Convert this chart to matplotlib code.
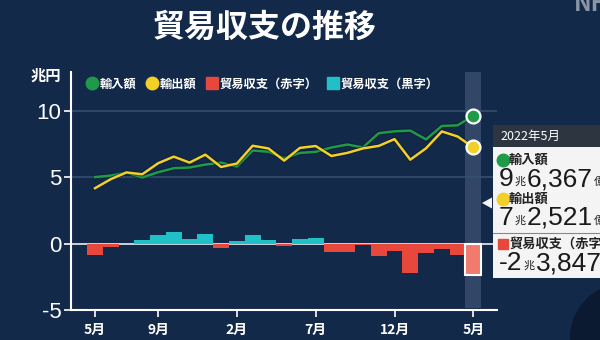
import numpy as np
import matplotlib.pyplot as plt
import matplotlib.patheffects as pe
from matplotlib.lines import Line2D
from matplotlib.patches import Rectangle, Circle, Polygon

plt.rcParams['font.family'] = ['Noto Sans CJK JP', 'DejaVu Sans']

# monthly trade figures, trillion yen (2020-05 .. 2022-05)
months = ['2020-05', '2020-06', '2020-07', '2020-08', '2020-09', '2020-10',
          '2020-11', '2020-12', '2021-01', '2021-02', '2021-03', '2021-04',
          '2021-05', '2021-06', '2021-07', '2021-08', '2021-09', '2021-10',
          '2021-11', '2021-12', '2022-01', '2022-02', '2022-03', '2022-04',
          '2022-05']
imports = [5.02, 5.13, 5.36, 4.99, 5.38, 5.69, 5.74, 5.96, 6.11, 5.82, 7.02,
           6.93, 6.44, 6.84, 6.92, 7.25, 7.47, 7.26, 8.33, 8.47, 8.52, 7.86,
           8.87, 8.92, 9.6367]
exports = [4.18, 4.86, 5.37, 5.23, 6.06, 6.56, 6.11, 6.71, 5.78, 6.04, 7.38,
           7.18, 6.26, 7.22, 7.36, 6.61, 6.84, 7.18, 7.37, 7.88, 6.33, 7.19,
           8.46, 8.08, 7.2521]
balance = [-0.83, -0.27, 0.01, 0.24, 0.68, 0.87, 0.37, 0.75, -0.33, 0.22,
           0.66, 0.26, -0.19, 0.38, 0.44, -0.64, -0.62, -0.07, -0.96, -0.58,
           -2.19, -0.67, -0.41, -0.84, -2.3847]
tick_months = ['2020-05', '2020-09', '2021-02', '2021-07', '2021-12', '2022-05']

BG = '#13294a'
GREEN = '#1f9a48'
YELLOW = '#f2d027'
RED = '#e8483c'
CYAN = '#1fc0c8'

x = np.arange(len(months))

fig = plt.figure(figsize=(6, 3.4), dpi=100)
fig.patch.set_facecolor(BG)

ax = fig.add_axes([71 / 600, 30 / 340, 426 / 600, 238 / 340])
ax.set_facecolor(BG)
ax.set_xlim(-1.52, 25.5)
ax.set_ylim(-5, 12.94)

# highlighted latest month
ax.axvspan(x[-1] - 0.5, x[-1] + 0.5, ymin=0.01, ymax=1, color='#3d5272',
           alpha=0.75, lw=0, zorder=0.5)

for yv in (5, 10):
    ax.axhline(yv, color='#34506f', lw=1.2, zorder=0.8)
ax.axhline(0, color='#e8eef5', lw=1.2, zorder=1)

colors = [RED if v < 0 else CYAN for v in balance]
edges = [c for c in colors]
lws = [0] * len(balance)
colors[-1] = '#f07a6e'
edges[-1] = 'white'
lws[-1] = 1.5
ax.bar(x, balance, width=1.0, color=colors, edgecolor=edges, linewidth=lws,
       zorder=2)

shadow = [pe.Stroke(linewidth=3.2, foreground='#0a1628', alpha=0.5), pe.Normal()]
ax.plot(x, imports, color=GREEN, lw=1.8, zorder=3, path_effects=shadow)
ax.plot(x, exports, color=YELLOW, lw=1.8, zorder=4, path_effects=shadow)
ax.plot(x[-1], imports[-1], 'o', ms=10, mfc=GREEN, mec='white', mew=1.6, zorder=6)
ax.plot(x[-1], exports[-1], 'o', ms=10, mfc=YELLOW, mec='white', mew=1.6, zorder=6)

for s in ('top', 'right'):
    ax.spines[s].set_visible(False)
for s in ('left', 'bottom'):
    ax.spines[s].set_color('white')
    ax.spines[s].set_linewidth(1.5)

ax.set_yticks([-5, 0, 5, 10])
ax.set_yticklabels(['-5', '0', '5', '10'], family=['Liberation Sans', 'DejaVu Sans'])
ax.tick_params(axis='y', colors='white', labelsize=16, length=5, width=1.2, pad=2)
tick_pos = [months.index(m) for m in tick_months]
ax.set_xticks(tick_pos)
ax.set_xticklabels(['{}月'.format(int(m[5:])) for m in tick_months],
                   fontweight='bold')
ax.tick_params(axis='x', colors='white', labelsize=10, length=5, width=1.2, pad=4)

fig.text(265 / 600, 1 - 28 / 340, '貿易収支の推移', fontsize=23, fontweight='bold',
         color='white', ha='center', va='center')
fig.text(31 / 600, 1 - 76 / 340, '兆円', fontsize=11, fontweight='bold',
         color='white', va='center')

handles = [
    Line2D([], [], marker='o', ls='', ms=9, mfc=GREEN, mec=GREEN),
    Line2D([], [], marker='o', ls='', ms=9, mfc=YELLOW, mec=YELLOW),
    Line2D([], [], marker='s', ls='', ms=8, mfc=RED, mec=RED),
    Line2D([], [], marker='s', ls='', ms=8, mfc=CYAN, mec=CYAN),
]
labels = ['輸入額', '輸出額', '貿易収支（赤字）', '貿易収支（黒字）']
fig.legend(handles, labels, loc='center left',
           bbox_to_anchor=(76 / 600, 1 - 84 / 340), ncol=4, frameon=False,
           handlelength=0.8, handletextpad=0.2, columnspacing=0.9,
           labelcolor='white', prop={'size': 8.8, 'weight': 'bold'})

# overlay in pixel coordinates for the info panel
ov = fig.add_axes([0, 0, 1, 1], zorder=10)
ov.set_xlim(0, 600)
ov.set_ylim(340, 0)
ov.axis('off')
ov.patch.set_alpha(0)

ov.add_patch(Circle((625, 338), 55, color='#0b1a30', lw=0))
ov.text(574, 4, 'NHK', fontsize=17, fontweight='bold', style='italic',
        color='#8a96a6', va='center', ha='left')


def split_oku(v):
    total = int(round(abs(v) * 10000))
    sign = '-' if v < 0 else ''
    return sign + str(total // 10000), '{:,}'.format(total % 10000)


ov.add_patch(Rectangle((493, 125), 120, 22, color='#2d3540', lw=0))
ov.text(500, 136, '2022年5月', fontsize=9, color='white', va='center')
ov.add_patch(Rectangle((493, 147), 120, 131, color='#f4f4f4', lw=0))
ov.add_patch(Polygon([(482, 203), (492, 197.5), (492, 208.5)], color='#f4f4f4', lw=0))

num_font = ['Liberation Sans', 'DejaVu Sans']
rows = [(160, 'o', GREEN, '輸入額', imports[-1], '億'),
        (199, 'o', YELLOW, '輸出額', exports[-1], '億'),
        (244, 's', RED, '貿易収支（赤字）', balance[-1], '')]
fig.canvas.draw()
renderer = fig.canvas.get_renderer()
for ty, mk, col, name, val, tail in rows:
    ov.plot(503, ty, marker=mk, ms=9 if mk == 'o' else 7.5, color=col, ls='')
    ov.text(509, ty, name, fontsize=9.5, fontweight='bold', color='#222222',
            va='center')
    big, small = split_oku(val)
    vy = 340 - (ty + 19)
    t1 = ov.text(499, vy, big, fontsize=19, color='#1a1a1a', va='center',
                 family=num_font, transform=None)
    x1 = t1.get_window_extent(renderer).x1
    t2 = ov.text(x1 + 1, vy - 3, '兆', fontsize=8, color='#1a1a1a',
                 va='center', transform=None)
    x2 = t2.get_window_extent(renderer).x1
    t3 = ov.text(x2 + 1, vy, small, fontsize=19, color='#1a1a1a',
                 va='center', family=num_font, transform=None)
    if tail:
        x3 = t3.get_window_extent(renderer).x1
        ov.text(x3 + 1, vy - 3, tail, fontsize=8, color='#1a1a1a',
                va='center', transform=None)
ov.plot([493, 600], [233, 233], color='#888888', lw=0.8)

fig.savefig('out.png', dpi=100, facecolor=BG)
